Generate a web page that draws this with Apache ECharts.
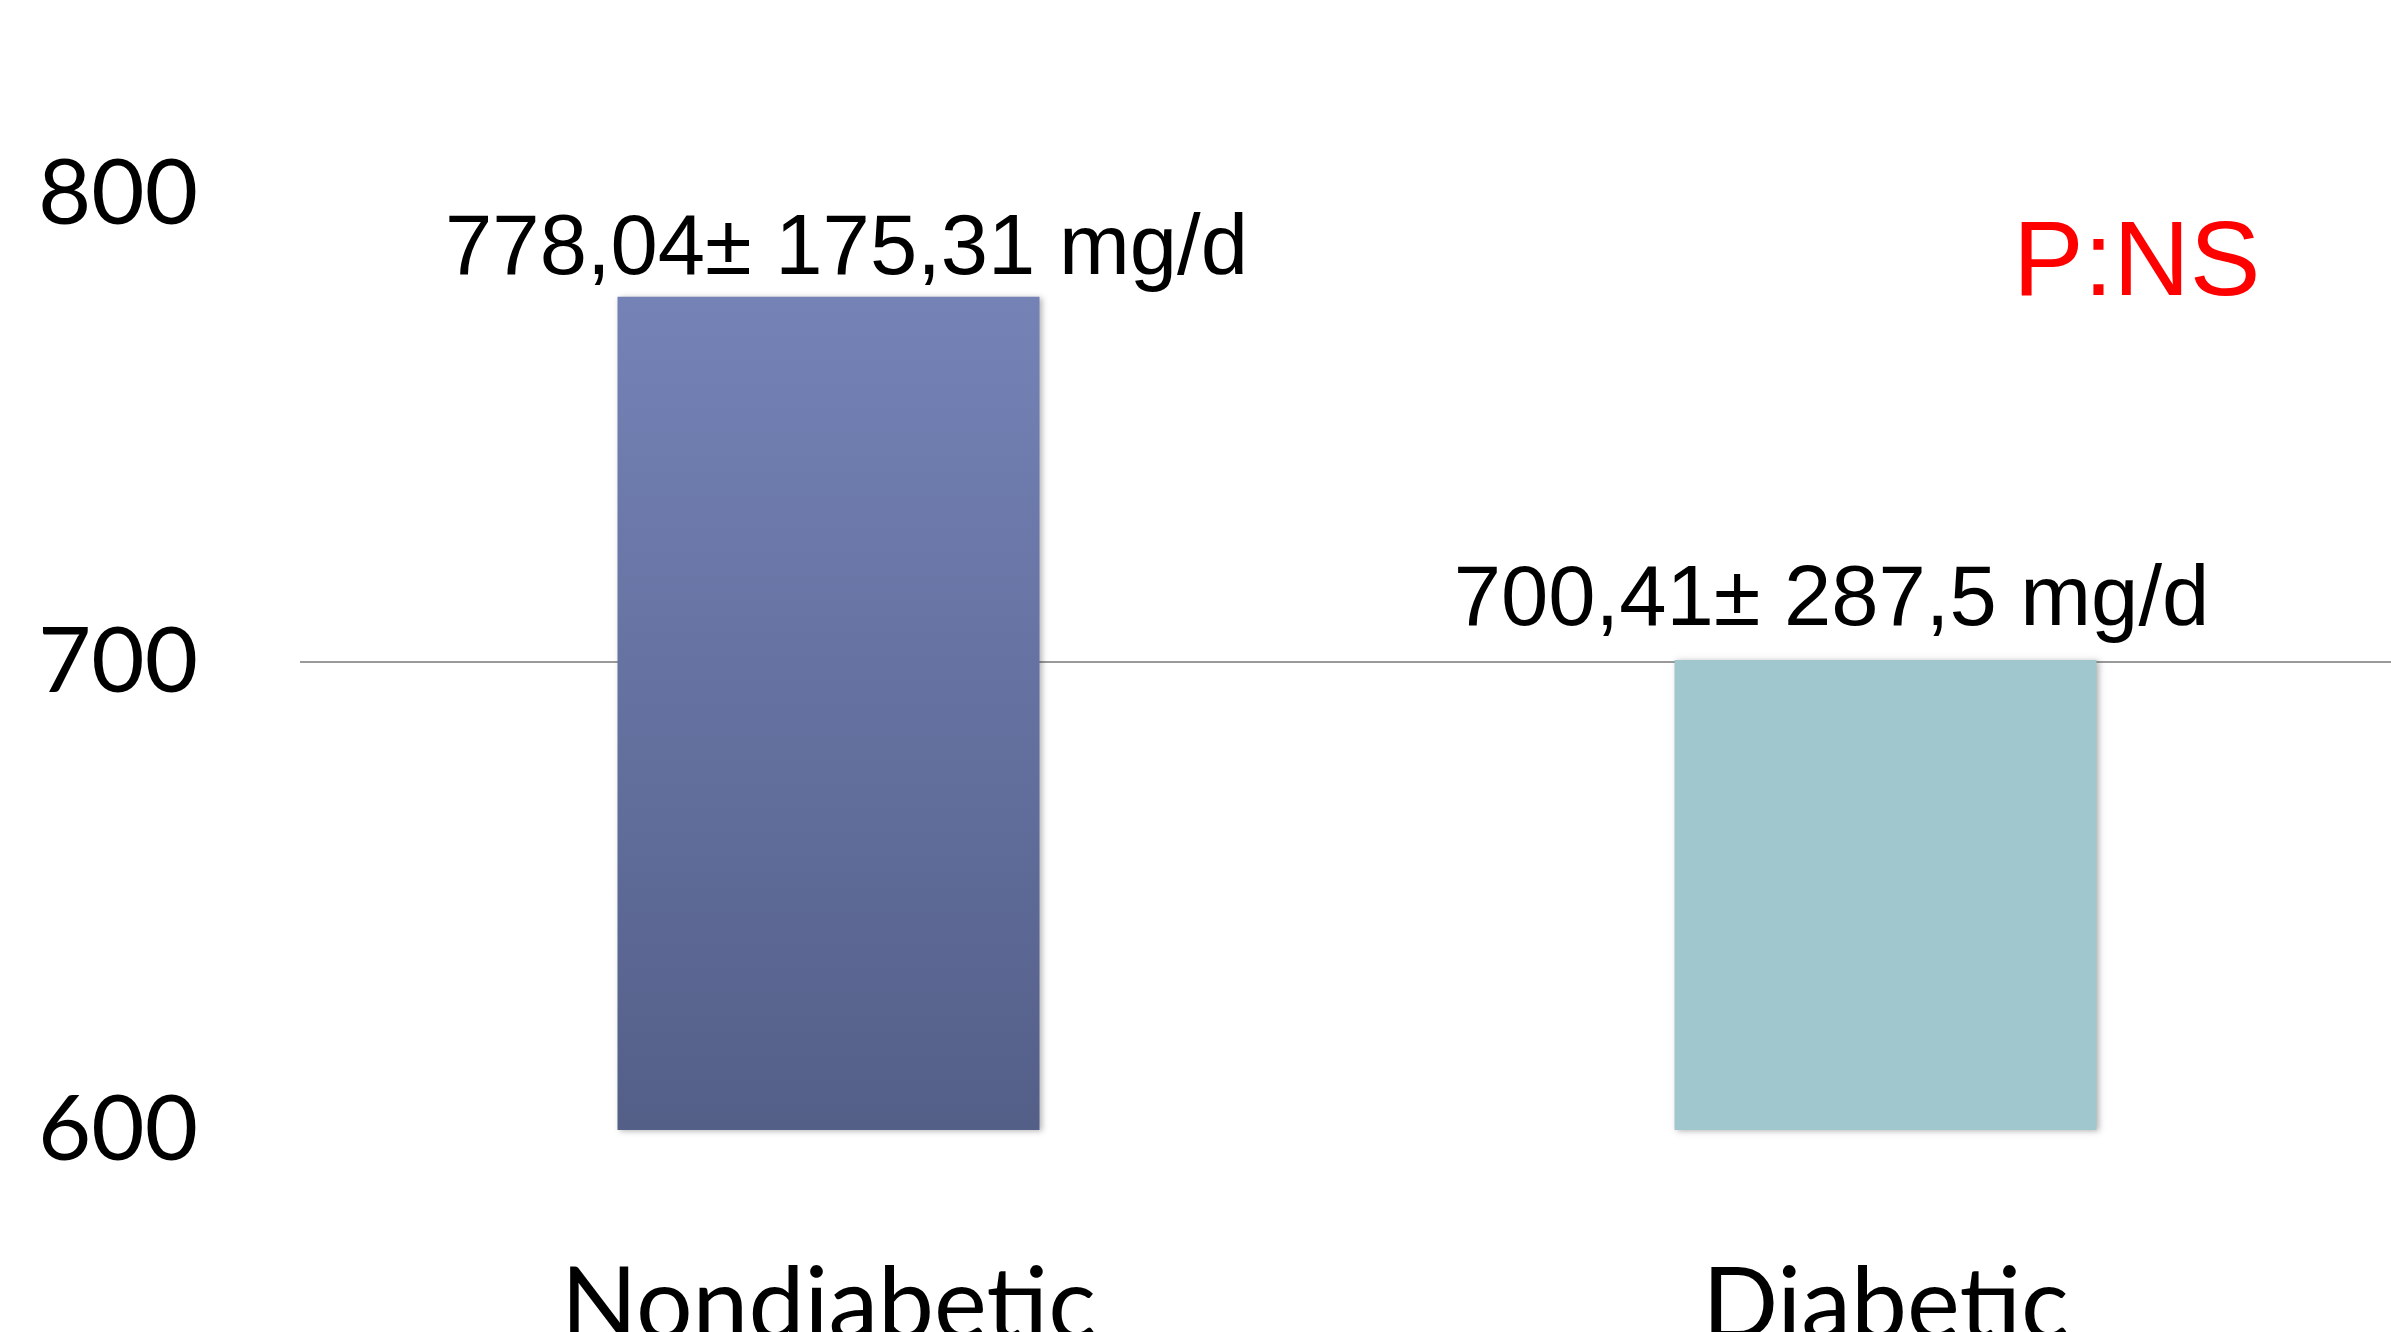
<!DOCTYPE html>
<html>
<head>
<meta charset="utf-8">
<title>Nondiabetic vs Diabetic</title>
<script src="https://cdn.jsdelivr.net/npm/echarts@6/dist/echarts.min.js"></script>
<style>
  html, body { margin: 0; padding: 0; background: #fff; }
  #chart { width: 2391px; height: 1332px; }
</style>
</head>
<body>
<div id="chart"></div>
<script>
// data
const categories = ['Nondiabetic', 'Diabetic'];
const means = [778.04, 700.41];
const sds = [175.31, 287.5];
const yTicks = [600, 700, 800];
const pText = 'P:NS';

const barColors = [
  new echarts.graphic.LinearGradient(0, 0, 0, 1, [
    { offset: 0, color: '#7482b6' },
    { offset: 1, color: '#545f88' }
  ]),
  '#a0c6ce'
];
// label offsets so the texts sit where they are in the picture
const labelOffsets = [[18, 8], [-54, -4]];

function fmt(v) {
  return String(v).replace('.', ',');
}

const chart = echarts.init(document.getElementById('chart'));

const option = {
  animation: false,
  backgroundColor: '#ffffff',
  title: {
    text: pText,
    left: 2008,
    top: 208,
    textStyle: {
      color: '#ff0000',
      fontFamily: 'Liberation Sans, Arial, sans-serif',
      fontWeight: 'normal',
      fontSize: 106
    }
  },
  grid: {
    left: 300,
    top: 194,
    width: 2114,
    bottom: 202,
    outerBoundsMode: 'none',
    containLabel: false
  },
  xAxis: {
    type: 'category',
    data: categories,
    axisLine: { show: false },
    axisTick: { show: false },
    axisLabel: {
      color: '#000',
      fontFamily: 'Lato, Open Sans, sans-serif',
      fontSize: 100,
      margin: 127
    }
  },
  yAxis: {
    type: 'value',
    min: yTicks[0],
    max: yTicks[yTicks.length - 1],
    interval: 100,
    axisLine: { show: false },
    axisTick: { show: false },
    axisLabel: {
      color: '#000',
      fontFamily: 'Lato, Open Sans, sans-serif',
      fontSize: 92,
      margin: 102
    },
    splitLine: {
      show: true,
      lineStyle: {
        // only the 700 line is drawn in the picture
        color: ['rgba(0,0,0,0)', '#9a9a9a', 'rgba(0,0,0,0)'],
        width: 2
      }
    }
  },
  series: [{
    type: 'bar',
    barWidth: 422,
    data: means.map((m, i) => ({
      value: m,
      itemStyle: { color: barColors[i] },
      label: { offset: labelOffsets[i] }
    })),
    itemStyle: {
      shadowColor: 'rgba(0,0,0,0.3)',
      shadowBlur: 6,
      shadowOffsetX: 2,
      shadowOffsetY: 1
    },
    label: {
      show: true,
      position: 'top',
      distance: 12,
      color: '#000',
      fontFamily: 'Liberation Sans, Arial, sans-serif',
      fontSize: 85,
      formatter: p => fmt(means[p.dataIndex]) + '\u00b1 ' + fmt(sds[p.dataIndex]) + ' mg/d'
    }
  }]
};

chart.setOption(option);
</script>
</body>
</html>
